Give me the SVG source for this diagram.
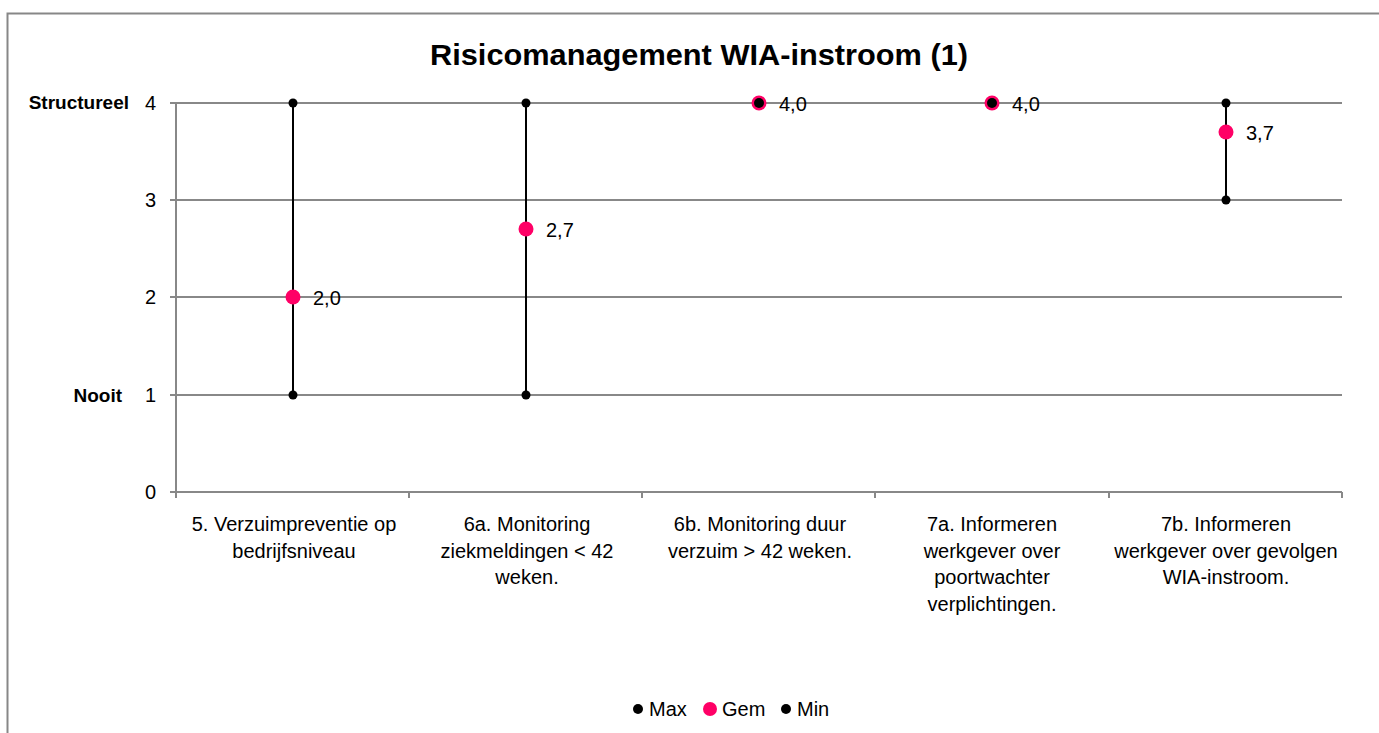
<svg xmlns="http://www.w3.org/2000/svg" width="1379" height="733" viewBox="0 0 1379 733">
<style>
.t{font-family:"Liberation Sans",Arial,sans-serif;font-size:20px;fill:#000}
.b{font-family:"Liberation Sans",Arial,sans-serif;font-weight:bold;fill:#000}
.c{text-anchor:middle}
.e{text-anchor:end}
.grid{stroke:#888;stroke-width:2;fill:none}
.bar{stroke:#000;stroke-width:2}
.mx{fill:#000}
.gm{fill:#FF0066}
</style>
<rect width="1379" height="733" fill="#fff"/>
<path d="M7.5,733 V13.5 H1379" fill="none" stroke="#878787" stroke-width="2"/>
<text class="b c" x="699" y="65" font-size="30" textLength="538" lengthAdjust="spacingAndGlyphs">Risicomanagement WIA-instroom (1)</text>
<g id="axes">
<path class="grid" d="M176,103 H1342 M176,200 H1342 M176,297 H1342 M176,395 H1342 M176,492 H1342 M176,103 V498 M170,103 H176 M170,200 H176 M170,297 H176 M170,395 H176 M170,492 H176 M409,492 V498 M642,492 V498 M875,492 V498 M1109,492 V498 M1342,492 V498"/>
<text class="t e" x="156" y="110">4</text>
<text class="t e" x="156" y="207">3</text>
<text class="t e" x="156" y="304">2</text>
<text class="t e" x="156" y="402">1</text>
<text class="t e" x="156" y="499">0</text>
<text class="b e" x="129" y="109" font-size="19">Structureel</text>
<text class="b e" x="122" y="402" font-size="19">Nooit</text>
</g>
<g id="connectors">
<line class="bar" x1="293" y1="103" x2="293" y2="395"/>
<line class="bar" x1="526" y1="103" x2="526" y2="395"/>
<line class="bar" x1="1226" y1="103" x2="1226" y2="200"/>
</g>
<g id="cat1">
<circle class="mx" cx="293" cy="103" r="4.5"/>
<circle class="gm" cx="293" cy="297" r="7.5"/>
<circle class="mx" cx="293" cy="395" r="4.5"/>
<text class="t" x="313" y="305">2,0</text>
<text class="t c" x="294" y="531">5. Verzuimpreventie op</text>
<text class="t c" x="294" y="557.5">bedrijfsniveau</text>
</g>
<g id="cat2">
<circle class="mx" cx="526" cy="103" r="4.5"/>
<circle class="gm" cx="526" cy="229" r="7.5"/>
<circle class="mx" cx="526" cy="395" r="4.5"/>
<text class="t" x="546" y="237">2,7</text>
<text class="t c" x="527" y="531">6a. Monitoring</text>
<text class="t c" x="527" y="557.5">ziekmeldingen &lt; 42</text>
<text class="t c" x="527" y="584">weken.</text>
</g>
<g id="cat3">
<circle class="gm" cx="759" cy="103" r="7.5"/>
<circle class="mx" cx="759" cy="103" r="5"/>
<text class="t" x="779" y="111">4,0</text>
<text class="t c" x="760" y="531">6b. Monitoring duur</text>
<text class="t c" x="760" y="557.5">verzuim &gt; 42 weken.</text>
</g>
<g id="cat4">
<circle class="gm" cx="992" cy="103" r="7.5"/>
<circle class="mx" cx="992" cy="103" r="5"/>
<text class="t" x="1012" y="111">4,0</text>
<text class="t c" x="992" y="531">7a. Informeren</text>
<text class="t c" x="992" y="557.5">werkgever over</text>
<text class="t c" x="992" y="584">poortwachter</text>
<text class="t c" x="992" y="610.5">verplichtingen.</text>
</g>
<g id="cat5">
<circle class="mx" cx="1226" cy="103" r="4.5"/>
<circle class="gm" cx="1226" cy="132" r="7.5"/>
<circle class="mx" cx="1226" cy="200" r="4.5"/>
<text class="t" x="1246" y="140">3,7</text>
<text class="t c" x="1226" y="531">7b. Informeren</text>
<text class="t c" x="1226" y="557.5">werkgever over gevolgen</text>
<text class="t c" x="1226" y="584">WIA-instroom.</text>
</g>
<g id="legend">
<circle class="mx" cx="638" cy="709" r="5"/>
<text class="t" x="649" y="716">Max</text>
<circle class="gm" cx="710" cy="709" r="7"/>
<text class="t" x="722" y="716">Gem</text>
<circle class="mx" cx="786" cy="709" r="5"/>
<text class="t" x="797" y="716">Min</text>
</g>
</svg>
